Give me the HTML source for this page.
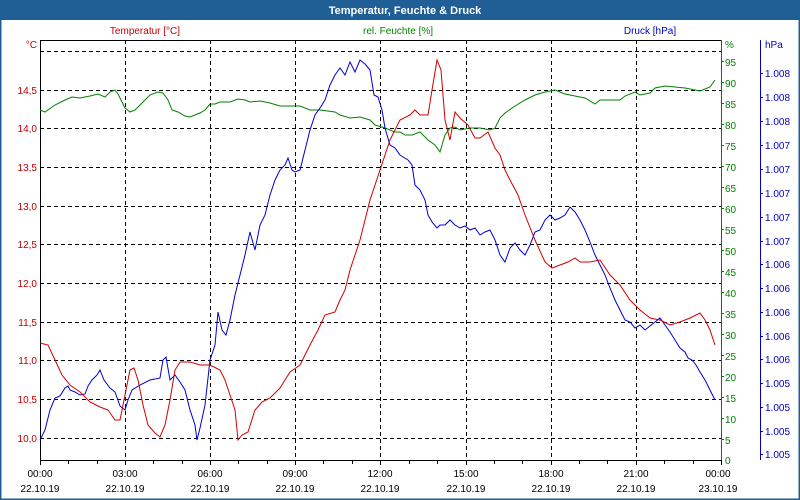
<!DOCTYPE html>
<html><head><meta charset="utf-8"><style>
body{margin:0;background:#fff;}
svg{display:block;font-family:"Liberation Sans","DejaVu Sans",sans-serif;}
</style></head><body>
<svg width="800" height="500" xmlns="http://www.w3.org/2000/svg">
<rect x="0" y="0" width="800" height="500" fill="#fff"/>
<rect x="0.5" y="0.5" width="799" height="499" fill="none" stroke="#1f5f95" stroke-width="2"/>
<rect x="0" y="0" width="800" height="20" fill="#1f5f95"/>
<text x="405" y="14" font-size="11" font-weight="bold" fill="#fff" text-anchor="middle">Temperatur, Feuchte &amp; Druck</text>
<text x="145" y="34" font-size="10" fill="#c00000" text-anchor="middle">Temperatur [°C]</text>
<text x="398" y="34" font-size="10" fill="#008000" text-anchor="middle">rel. Feuchte [%]</text>
<text x="650" y="34" font-size="10" fill="#0000c0" text-anchor="middle">Druck [hPa]</text>
<!-- plot frame -->
<line x1="40" y1="40.5" x2="721" y2="40.5" stroke="#000"/>
<line x1="40.5" y1="40" x2="40.5" y2="460" stroke="#000"/>
<line x1="40" y1="460.5" x2="721" y2="460.5" stroke="#000"/>
<line x1="721.5" y1="40" x2="721.5" y2="460" stroke="#008000"/>
<line x1="760.5" y1="40" x2="760.5" y2="460" stroke="#0000c0"/>
<g stroke="#000" stroke-dasharray="4,3" stroke-width="1">
<line x1="40" y1="51.5" x2="721" y2="51.5"/><line x1="40" y1="90.5" x2="721" y2="90.5"/>
<line x1="40" y1="128.5" x2="721" y2="128.5"/><line x1="40" y1="167.5" x2="721" y2="167.5"/>
<line x1="40" y1="206.5" x2="721" y2="206.5"/><line x1="40" y1="244.5" x2="721" y2="244.5"/>
<line x1="40" y1="283.5" x2="721" y2="283.5"/><line x1="40" y1="322.5" x2="721" y2="322.5"/>
<line x1="40" y1="360.5" x2="721" y2="360.5"/><line x1="40" y1="399.5" x2="721" y2="399.5"/>
<line x1="40" y1="438.5" x2="721" y2="438.5"/>
<line x1="125.5" y1="40" x2="125.5" y2="460"/><line x1="210.5" y1="40" x2="210.5" y2="460"/>
<line x1="295.5" y1="40" x2="295.5" y2="460"/><line x1="380.5" y1="40" x2="380.5" y2="460"/>
<line x1="466.5" y1="40" x2="466.5" y2="460"/><line x1="551.5" y1="40" x2="551.5" y2="460"/>
<line x1="636.5" y1="40" x2="636.5" y2="460"/>
</g>
<!-- x ticks -->
<g stroke="#000">
<line x1="40.5" y1="460" x2="40.5" y2="465"/><line x1="68.5" y1="460" x2="68.5" y2="464"/><line x1="97.5" y1="460" x2="97.5" y2="464"/>
<line x1="125.5" y1="460" x2="125.5" y2="465"/><line x1="153.5" y1="460" x2="153.5" y2="464"/><line x1="182.5" y1="460" x2="182.5" y2="464"/>
<line x1="210.5" y1="460" x2="210.5" y2="465"/><line x1="238.5" y1="460" x2="238.5" y2="464"/><line x1="267.5" y1="460" x2="267.5" y2="464"/>
<line x1="295.5" y1="460" x2="295.5" y2="465"/><line x1="323.5" y1="460" x2="323.5" y2="464"/><line x1="352.5" y1="460" x2="352.5" y2="464"/>
<line x1="380.5" y1="460" x2="380.5" y2="465"/><line x1="409.5" y1="460" x2="409.5" y2="464"/><line x1="437.5" y1="460" x2="437.5" y2="464"/>
<line x1="466.5" y1="460" x2="466.5" y2="465"/><line x1="494.5" y1="460" x2="494.5" y2="464"/><line x1="522.5" y1="460" x2="522.5" y2="464"/>
<line x1="551.5" y1="460" x2="551.5" y2="465"/><line x1="579.5" y1="460" x2="579.5" y2="464"/><line x1="607.5" y1="460" x2="607.5" y2="464"/>
<line x1="636.5" y1="460" x2="636.5" y2="465"/><line x1="664.5" y1="460" x2="664.5" y2="464"/><line x1="693.5" y1="460" x2="693.5" y2="464"/>
<line x1="721.5" y1="460" x2="721.5" y2="465"/>
</g>
<g font-size="10" fill="#000" text-anchor="middle">
<text x="40" y="477">00:00</text><text x="40" y="492">22.10.19</text>
<text x="125" y="477">03:00</text><text x="125" y="492">22.10.19</text>
<text x="210" y="477">06:00</text><text x="210" y="492">22.10.19</text>
<text x="295" y="477">09:00</text><text x="295" y="492">22.10.19</text>
<text x="380" y="477">12:00</text><text x="380" y="492">22.10.19</text>
<text x="466" y="477">15:00</text><text x="466" y="492">22.10.19</text>
<text x="551" y="477">18:00</text><text x="551" y="492">22.10.19</text>
<text x="636" y="477">21:00</text><text x="636" y="492">22.10.19</text>
<text x="718" y="477">00:00</text><text x="718" y="492">23.10.19</text>
</g>
<!-- left axis -->
<g font-size="10" fill="#c00000" text-anchor="end">
<text x="37" y="48">°C</text>
<text x="37" y="94">14,5</text><text x="37" y="132">14,0</text><text x="37" y="171">13,5</text>
<text x="37" y="210">13,0</text><text x="37" y="248">12,5</text><text x="37" y="287">12,0</text>
<text x="37" y="326">11,5</text><text x="37" y="364">11,0</text><text x="37" y="403">10,5</text>
<text x="37" y="442">10,0</text>
</g>
<!-- % axis -->
<g font-size="10" fill="#008000">
<text x="725" y="48">%</text>
<text x="725" y="66">95</text><text x="725" y="87">90</text><text x="725" y="108">85</text><text x="725" y="129">80</text>
<text x="725" y="150">75</text><text x="725" y="171">70</text><text x="725" y="192">65</text><text x="725" y="213">60</text>
<text x="725" y="234">55</text><text x="725" y="255">50</text><text x="725" y="276">45</text><text x="725" y="297">40</text>
<text x="725" y="318">35</text><text x="725" y="339">30</text><text x="725" y="360">25</text><text x="725" y="381">20</text>
<text x="725" y="402">15</text><text x="725" y="423">10</text><text x="725" y="444">5</text><text x="725" y="464">0</text>
</g>
<g stroke="#008000">
<line x1="721" y1="61.5" x2="724" y2="61.5"/><line x1="721" y1="82.5" x2="724" y2="82.5"/><line x1="721" y1="103.5" x2="724" y2="103.5"/><line x1="721" y1="124.5" x2="724" y2="124.5"/><line x1="721" y1="145.5" x2="724" y2="145.5"/><line x1="721" y1="166.5" x2="724" y2="166.5"/><line x1="721" y1="187.5" x2="724" y2="187.5"/><line x1="721" y1="208.5" x2="724" y2="208.5"/><line x1="721" y1="229.5" x2="724" y2="229.5"/><line x1="721" y1="250.5" x2="724" y2="250.5"/><line x1="721" y1="271.5" x2="724" y2="271.5"/><line x1="721" y1="292.5" x2="724" y2="292.5"/><line x1="721" y1="313.5" x2="724" y2="313.5"/><line x1="721" y1="334.5" x2="724" y2="334.5"/><line x1="721" y1="355.5" x2="724" y2="355.5"/><line x1="721" y1="376.5" x2="724" y2="376.5"/><line x1="721" y1="397.5" x2="724" y2="397.5"/><line x1="721" y1="418.5" x2="724" y2="418.5"/><line x1="721" y1="439.5" x2="724" y2="439.5"/>
</g>
<!-- hPa axis -->
<g font-size="10" fill="#0000c0">
<text x="765" y="48">hPa</text>
<text x="765" y="77">1.008</text><text x="765" y="101">1.008</text><text x="765" y="125">1.008</text>
<text x="765" y="149">1.007</text><text x="765" y="173">1.007</text><text x="765" y="197">1.007</text>
<text x="765" y="221">1.007</text><text x="765" y="245">1.007</text><text x="765" y="268">1.006</text>
<text x="765" y="292">1.006</text><text x="765" y="316">1.006</text><text x="765" y="340">1.006</text>
<text x="765" y="363">1.006</text><text x="765" y="387">1.005</text><text x="765" y="411">1.005</text>
<text x="765" y="435">1.005</text><text x="765" y="458">1.005</text>
</g>
<g stroke="#0000c0">
<line x1="760" y1="73.5" x2="763" y2="73.5"/><line x1="760" y1="97.5" x2="763" y2="97.5"/><line x1="760" y1="121.5" x2="763" y2="121.5"/><line x1="760" y1="145.5" x2="763" y2="145.5"/><line x1="760" y1="169.5" x2="763" y2="169.5"/><line x1="760" y1="193.5" x2="763" y2="193.5"/><line x1="760" y1="217.5" x2="763" y2="217.5"/><line x1="760" y1="241.5" x2="763" y2="241.5"/><line x1="760" y1="264.5" x2="763" y2="264.5"/><line x1="760" y1="288.5" x2="763" y2="288.5"/><line x1="760" y1="312.5" x2="763" y2="312.5"/><line x1="760" y1="336.5" x2="763" y2="336.5"/><line x1="760" y1="359.5" x2="763" y2="359.5"/><line x1="760" y1="383.5" x2="763" y2="383.5"/><line x1="760" y1="407.5" x2="763" y2="407.5"/><line x1="760" y1="431.5" x2="763" y2="431.5"/><line x1="760" y1="454.5" x2="763" y2="454.5"/>
</g>
<!-- series -->
<polyline fill="none" stroke="#008000" stroke-width="1" points="40,110 45,112 55,105 65,100 72,97 80,98 90,96 98,94 105,97 110,92 115,90 118,94 125,108 130,112 135,110 142,103 150,95 158,92 163,93 168,100 172,110 178,112 185,116 190,117 195,115 200,113 205,110 210,104 215,104 220,102 230,102 238,99 245,100 250,102 260,101 270,103 280,106 290,106 300,106 310,110 320,110 335,112 340,115 350,118 360,117 370,120 375,125 385,128 395,132 400,132 405,135 412,135 420,132 428,140 435,145 440,152 445,135 450,128 455,127 460,130 470,128 480,128 490,130 495,128 500,118 505,113 515,106 525,100 535,95 545,92 555,90 565,94 575,96 585,98 595,104 600,100 610,100 620,100 625,96 635,92 640,95 650,93 655,88 665,86 675,87 685,88 695,90 700,91 710,87 715,80"/>
<polyline fill="none" stroke="#0000d0" stroke-width="1" points="40,440 45,430 50,410 55,398 60,396 65,388 68,386 70,390 75,392 80,395 85,394 88,386 92,380 97,375 100,370 104,380 110,388 115,392 120,406 125,410 128,400 132,390 140,385 150,380 160,378 163,360 166,357 170,380 175,375 180,382 185,390 190,410 195,425 197,440 200,428 205,405 210,360 215,345 218,312 222,330 226,335 230,320 235,295 240,275 245,255 250,232 255,250 260,225 265,215 270,195 275,180 280,170 285,165 288,158 292,170 295,172 300,170 305,150 310,130 315,115 320,108 325,100 330,85 335,75 340,68 345,75 350,62 355,72 360,60 365,64 370,70 374,95 378,97 382,110 385,128 390,145 395,148 400,155 403,157 408,160 412,165 415,185 420,190 425,200 428,215 432,222 437,228 440,225 445,225 450,220 455,225 460,228 465,226 470,230 475,228 480,235 485,232 490,230 495,240 500,255 505,262 510,248 515,243 520,250 525,255 530,245 535,232 540,230 545,220 550,215 555,220 560,218 565,215 570,207 575,212 580,220 585,230 590,242 595,255 600,265 605,275 610,288 615,300 620,310 625,320 630,322 635,328 640,325 645,330 650,326 655,322 660,318 665,325 670,332 675,340 680,348 685,352 688,358 692,360 696,365 700,372 705,380 710,390 715,400"/>
<polyline fill="none" stroke="#d00000" stroke-width="1" points="40,343 48,345 55,360 62,375 70,385 80,392 90,402 100,407 108,410 115,420 120,420 125,395 130,370 134,368 138,380 143,405 148,425 155,433 160,437 165,425 170,400 175,370 180,362 190,362 200,365 210,365 220,370 225,380 230,395 235,410 238,440 242,435 248,432 255,410 262,402 270,398 280,388 290,372 300,365 305,355 310,345 318,330 325,315 335,312 340,300 345,290 350,270 355,255 360,240 365,220 370,200 375,185 380,170 385,155 390,140 400,120 410,115 415,110 420,115 428,115 432,90 437,60 441,70 445,120 450,140 455,112 460,118 468,125 475,138 480,138 488,132 495,148 500,155 505,170 510,180 518,195 525,215 535,240 545,262 552,268 560,265 568,262 575,258 580,262 590,262 600,260 610,275 620,285 630,300 640,310 650,318 660,320 670,325 680,322 690,318 700,313 705,320 710,330 715,345"/>
</svg>
</body></html>
